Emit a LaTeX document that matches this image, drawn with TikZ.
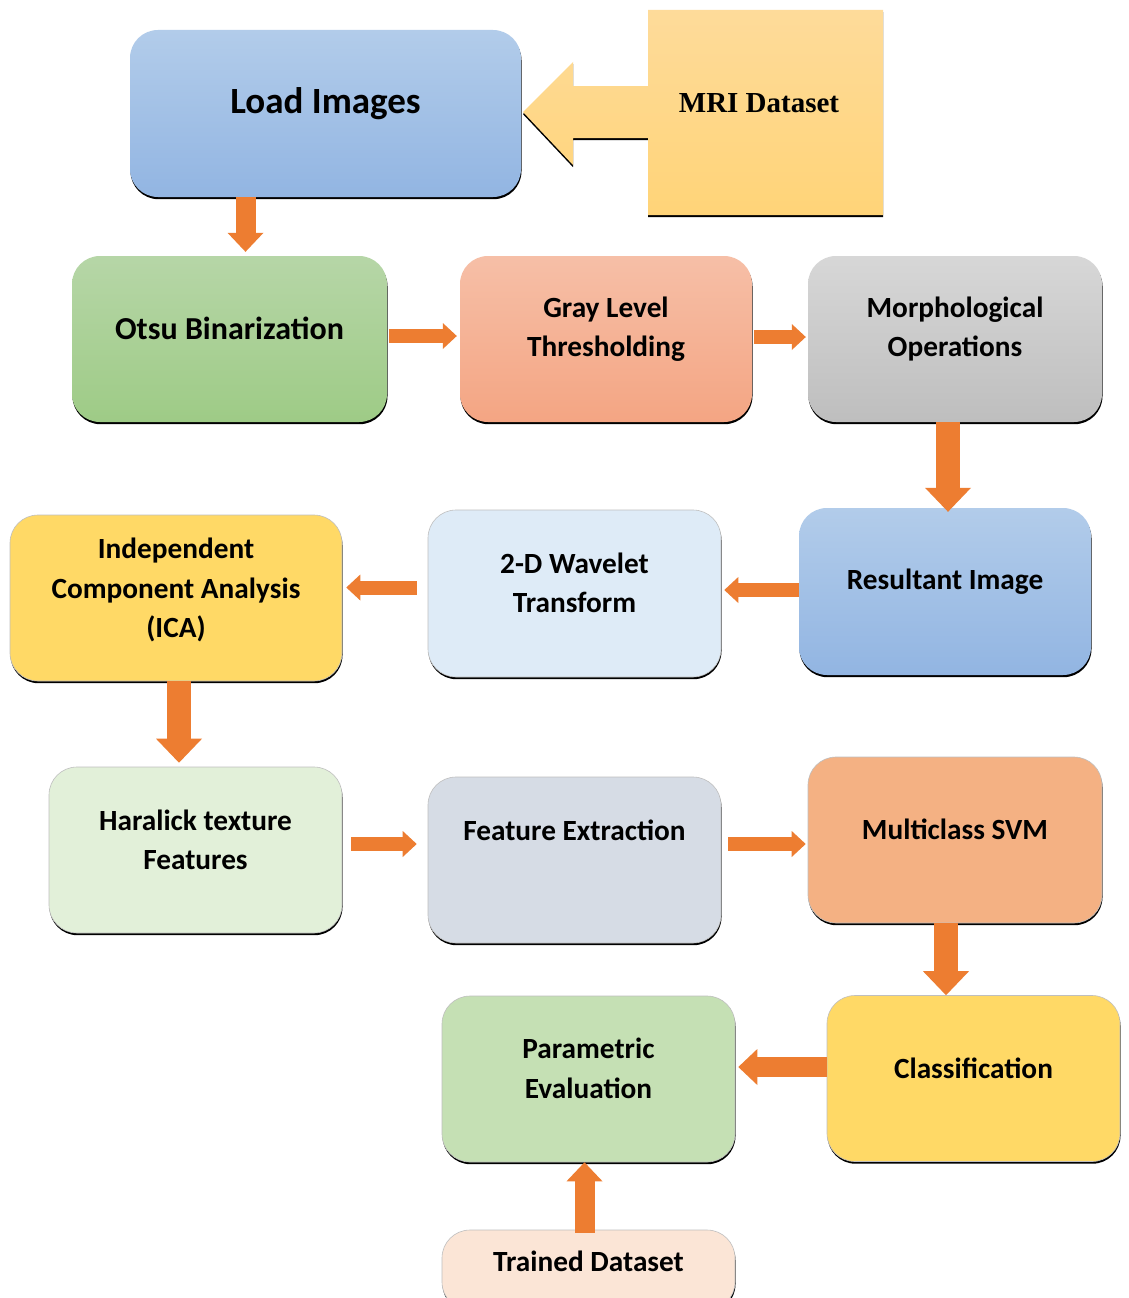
\documentclass[tikz,border=0pt]{standalone}
\usepackage{fontspec}
\setmainfont{Carlito}
\newfontfamily\mrifont{Liberation Serif}
\usetikzlibrary{arrows.meta,positioning,calc,shadows}
\definecolor{flowarrow}{HTML}{ED7D31}
\definecolor{loadtop}{HTML}{B2CCEA}
\definecolor{loadbot}{HTML}{92B5E2}
\definecolor{otsutop}{HTML}{B6D6A7}
\definecolor{otsubot}{HTML}{9ECB86}
\definecolor{graytop}{HTML}{F6BFA7}
\definecolor{graybot}{HTML}{F4A583}
\definecolor{morphtop}{HTML}{D7D7D7}
\definecolor{morphbot}{HTML}{BEBEBE}
\definecolor{mritop}{HTML}{FEDB9A}
\definecolor{mribot}{HTML}{FFD478}
\definecolor{wavefill}{HTML}{DEEBF7}
\definecolor{icafill}{HTML}{FFD966}
\definecolor{harafill}{HTML}{E2F0D9}
\definecolor{featfill}{HTML}{D6DCE5}
\definecolor{svmfill}{HTML}{F4B183}
\definecolor{paramfill}{HTML}{C5E0B4}
\definecolor{trainfill}{HTML}{FBE5D6}

\begin{document}
\begin{tikzpicture}[x=1pt,y=-1pt,
    stepbox/.style={rounded corners=28pt,minimum width=293pt,minimum height=166pt,
      drop shadow={shadow xshift=0.5pt,shadow yshift=-2.2pt,opacity=1,fill=black}},
    fadebox/.style 2 args={stepbox,top color=#1,bottom color=#2},
    flatbox/.style={stepbox,fill=#1,draw=black!25,line width=0.6pt},
    lbl/.style={font=\fontsize{29.3}{39.5}\selectfont\bfseries,align=center,inner sep=0pt},
    thinflow/.style={draw=flowarrow,line width=14pt,
      -{Triangle[width=26pt,length=14pt,line width=0pt]}},
    midflow/.style={draw=flowarrow,line width=20pt,
      -{Triangle[width=36pt,length=19pt,line width=0pt]}},
    wideflow/.style={draw=flowarrow,line width=24pt,
      -{Triangle[width=46pt,length=24pt,line width=0pt]}}]
  \useasboundingbox (0,0) rectangle (1128,1298);
  \fill[white] (0,0) rectangle (1128,1298);

  % row 1
  \node[fadebox={loadtop}{loadbot},minimum width=391pt,minimum height=167pt] (load) at (325.5,113.5) {};
  \node[lbl,font=\fontsize{37}{44}\selectfont\bfseries] (load-t) at ([yshift=9.5pt]load.center) {Load Images};
  \path[top color=mritop,bottom color=mribot,
        drop shadow={shadow xshift=0pt,shadow yshift=-2.2pt,opacity=1,fill=black}]
    (648,10) -- (883,10) -- (883,215) -- (648,215) -- (648,138) -- (573,138) -- (573,165)
    -- (523,112) -- (573,62) -- (573,86) -- (648,86) -- cycle;
  \node[lbl,font=\mrifont\fontsize{29}{35}\selectfont\bfseries] (mri) at (759,103) {MRI Dataset};

  % row 2
  \node[fadebox={otsutop}{otsubot},minimum width=315pt] (otsu) at (229.5,339) {};
  \node[lbl,font=\fontsize{32}{40}\selectfont\bfseries] (otsu-t) at ([yshift=11pt]otsu.center) {Otsu Binarization};
  \node[fadebox={graytop}{graybot},minimum width=292pt] (gray) at (606,339) {};
  \node[lbl] (gray-t) at ([yshift=10pt]gray.center) {Gray Level\\Thresholding};
  \node[fadebox={morphtop}{morphbot},minimum width=294pt] (morph) at (955,339) {};
  \node[lbl] (morph-t) at ([yshift=10pt]morph.center) {Morphological\\Operations};

  % row 3
  \node[fadebox={loadtop}{loadbot},minimum width=292pt,minimum height=167pt] (result) at (945,591.5) {};
  \node[lbl] (result-t) at ([yshift=9.5pt]result.center) {Resultant Image};
  \node[flatbox=wavefill,minimum height=167pt] (wave) at (574.5,593.5) {};
  \node[lbl] (wave-t) at ([yshift=10.5pt]wave.center) {2-D Wavelet\\Transform};
  \node[flatbox=icafill,minimum width=332pt] (ica) at (176,598) {};
  \node[lbl] (ica-t) at ([yshift=8pt]ica.center) {Independent\\Component Analysis\\(ICA)};

  % row 4
  \node[flatbox=harafill] (hara) at (195.5,850) {};
  \node[lbl] (hara-t) at ([yshift=10pt]hara.center) {Haralick texture\\Features};
  \node[flatbox=featfill] (feat) at (574.5,860) {};
  \node[lbl] (feat-t) at ([yshift=29.5pt]feat.center) {Feature Extraction};
  \node[flatbox=svmfill,minimum width=294pt] (svm) at (955,840) {};
  \node[lbl] (svm-t) at ([yshift=10.5pt]svm.center) {Multiclass SVM};

  % row 5
  \node[flatbox=icafill] (cls) at (973.5,1078.5) {};
  \node[lbl] (cls-t) at ([yshift=10pt]cls.center) {Classification};
  \node[flatbox=paramfill] (param) at (588.5,1079) {};
  \node[lbl] (param-t) at ([yshift=10.5pt]param.center) {Parametric\\Evaluation};
  \node[flatbox=trainfill,minimum height=80pt] (trained) at (588.5,1270) {};
  \node[lbl] (trained-t) at ([yshift=8.5pt]trained.center) {Trained Dataset};

  % flow arrows
  \draw[midflow,shorten >=4pt] ([xshift=-80pt]load.south) -- ([xshift=-80pt]load.south |- otsu.north);
  \draw[thinflow,shorten <=2pt,shorten >=3pt] ([yshift=3pt]otsu.east) -- ([yshift=3pt]otsu.east -| gray.west);
  \draw[thinflow,shorten <=2pt,shorten >=2pt] ([yshift=2pt]gray.east) -- ([yshift=2pt]gray.east -| morph.west);
  \draw[wideflow,shorten >=-4pt] ([xshift=-7pt]morph.south) -- ([xshift=-7pt]morph.south |- result.north);
  \draw[thinflow,shorten >=3pt] ([yshift=1.5pt]result.west) -- ([yshift=1.5pt]result.west -| wave.east);
  \draw[thinflow,shorten <=11pt,shorten >=4pt] ([yshift=6pt]wave.west) -- ([yshift=6pt]wave.west -| ica.east);
  \draw[wideflow,shorten >=4pt] ([xshift=3pt]ica.south) -- ([xshift=3pt]ica.south |- hara.north);
  \draw[thinflow,shorten <=9pt,shorten >=11pt] ([yshift=6pt]hara.east) -- ([yshift=6pt]hara.east -| feat.west);
  \draw[thinflow,shorten <=7pt,shorten >=2pt] ([yshift=16pt]feat.east) -- ([yshift=16pt]feat.east -| svm.west);
  \draw[wideflow] ([xshift=-9pt]svm.south) -- ([xshift=-9pt]svm.south |- cls.north);
  \draw[midflow,shorten >=3pt] ([yshift=11.5pt]cls.west) -- ([yshift=11.5pt]cls.west -| param.east);
  \draw[midflow,shorten <=-3pt] ([xshift=-4pt]trained.north) -- ([xshift=-4pt]trained.north |- param.south);
\end{tikzpicture}
\end{document}
